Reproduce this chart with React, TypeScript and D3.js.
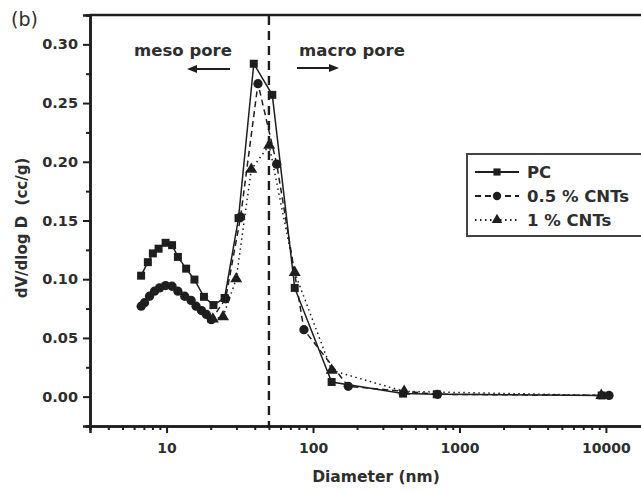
import React, { useEffect, useRef } from "react"
import * as d3 from "d3"

// PC (squares, solid)
const pcDiameter = [6.7, 7.45, 8.06, 8.82, 9.85, 10.9, 11.95, 13.6, 15.5, 18.0, 20.9, 24.9, 31.0, 39.4, 52.7, 75, 134, 412, 700, 9350]
const pcValue = [0.103, 0.1145, 0.122, 0.126, 0.131, 0.129, 0.119, 0.109, 0.0997, 0.085, 0.078, 0.084, 0.152, 0.2835, 0.257, 0.0926, 0.0125, 0.0026, 0.002, 0.001]

// 0.5 % CNTs (circles, dashed)
const cnt05Diameter = [6.71, 7.07, 7.65, 8.28, 8.96, 9.85, 10.9, 11.95, 13.3, 14.7, 15.9, 17.3, 18.7, 20.2, 25.3, 32, 42.1, 56.5, 86.7, 174, 708, 10500]
const cnt05Value = [0.077, 0.08, 0.0855, 0.0898, 0.0926, 0.0946, 0.094, 0.0898, 0.0855, 0.082, 0.077, 0.0733, 0.07, 0.0656, 0.0833, 0.153, 0.2665, 0.198, 0.057, 0.0088, 0.002, 0.001]

// 1 % CNTs (triangles, dotted)
const cnt1Diameter = [20.7, 24.3, 29.9, 37.9, 50.2, 75, 134, 419, 9300]
const cnt1Value = [0.066, 0.068, 0.1003, 0.1935, 0.214, 0.1057, 0.0224, 0.0045, 0.001]

const xMajorTicks = [10, 100, 1000, 10000]
const yMajorTicks = [0, 0.05, 0.1, 0.15, 0.2, 0.25, 0.3]
const seriesNames = ["PC", "0.5 % CNTs", "1 % CNTs"]
const boundary = 50

const W = 641
const H = 492
const ink = "#1e1e1e"
const txt = "#2e2e2e"
const font = "'DejaVu Sans', sans-serif"

const App = () => {
	const svgRef = useRef<SVGSVGElement>(null)

	useEffect(() => {
		const svg = d3.select(svgRef.current)
		svg.selectAll("*").remove()

		const x = d3.scaleLog().domain([3, 20000]).range([90, 650])
		const y = d3.scaleLinear().domain([-0.025, 0.325]).range([426, 15])

		const series = [
			{ name: seriesNames[0], d: pcDiameter, v: pcValue, dash: null, shape: d3.symbolSquare, size: 64 },
			{ name: seriesNames[1], d: cnt05Diameter, v: cnt05Value, dash: "6,4", shape: d3.symbolCircle, size: 68 },
			{ name: seriesNames[2], d: cnt1Diameter, v: cnt1Value, dash: "1.5,3.5", shape: d3.symbolTriangle, size: 62 },
		]

		// frame: top line
		svg.append("line")
			.attr("x1", 90).attr("x2", W)
			.attr("y1", 15).attr("y2", 15)
			.attr("stroke", ink).attr("stroke-width", 2.5)

		// x axis with log minor ticks
		const minor: number[] = []
		for (let e = 0; e <= 4; e++) {
			for (let k = 2; k <= 9; k++) {
				const t = k * Math.pow(10, e)
				if (t > 3 && t < 20000) minor.push(t)
			}
		}
		const xAxis = svg.append("g").attr("transform", "translate(0,426)")
		xAxis.call(
			d3.axisBottom(x).tickValues(minor).tickSize(4).tickFormat(() => "")
		)
		xAxis.append("g").call(
			d3.axisBottom(x).tickValues(xMajorTicks).tickSize(7).tickFormat(d3.format("d"))
		)
		xAxis.selectAll(".domain").attr("stroke", ink).attr("stroke-width", 2.5)
		xAxis.selectAll("line").attr("stroke", ink).attr("stroke-width", 2)
		xAxis.selectAll("text")
			.attr("font-family", font).attr("font-weight", "bold")
			.attr("font-size", 14).attr("fill", txt).attr("y", 27).attr("dy", null)

		// y axis
		const yAxis = svg.append("g").attr("transform", "translate(90,0)")
		yAxis.call(
			d3.axisLeft(y).tickValues(d3.range(-0.025, 0.33, 0.05)).tickSize(4).tickFormat(() => "")
		)
		yAxis.append("g").call(
			d3.axisLeft(y).tickValues(yMajorTicks).tickSize(7).tickFormat(d3.format(".2f"))
		)
		yAxis.selectAll(".domain").attr("stroke", ink).attr("stroke-width", 2.5)
		yAxis.selectAll("line").attr("stroke", ink).attr("stroke-width", 2)
		yAxis.selectAll("text")
			.attr("font-family", font).attr("font-weight", "bold")
			.attr("font-size", 14.5).attr("fill", txt).attr("x", -12)

		// axis titles
		svg.append("text")
			.attr("x", 376).attr("y", 482)
			.attr("text-anchor", "middle")
			.attr("font-family", font).attr("font-weight", "bold").attr("font-size", 15.5)
			.attr("fill", txt)
			.text("Diameter (nm)")
		svg.append("text")
			.attr("transform", "translate(27,228) rotate(-90)")
			.attr("text-anchor", "middle")
			.attr("font-family", font).attr("font-weight", "bold").attr("font-size", 15)
			.attr("fill", txt)
			.attr("xml:space", "preserve")
			.text("dV/dlog D  (cc/g)")

		svg.append("text")
			.attr("x", 11).attr("y", 26)
			.attr("font-family", font).attr("font-size", 19).attr("fill", txt)
			.text("(b)")

		// vertical boundary line
		svg.append("line")
			.attr("x1", x(boundary)).attr("x2", x(boundary))
			.attr("y1", 16).attr("y2", 426)
			.attr("stroke", ink).attr("stroke-width", 2.4)
			.attr("stroke-dasharray", "9,6")

		// annotations
		svg.append("text")
			.attr("x", 183).attr("y", 56).attr("text-anchor", "middle")
			.attr("font-family", font).attr("font-weight", "bold").attr("font-size", 16.5)
			.attr("fill", txt).text("meso pore")
		svg.append("text")
			.attr("x", 352).attr("y", 56).attr("text-anchor", "middle")
			.attr("font-family", font).attr("font-weight", "bold").attr("font-size", 16.5)
			.attr("fill", txt).text("macro pore")

		const arrow = (x1: number, x2: number, yy: number) => {
			const dir = Math.sign(x2 - x1)
			svg.append("line")
				.attr("x1", x1).attr("x2", x2 - dir * 6)
				.attr("y1", yy).attr("y2", yy)
				.attr("stroke", ink).attr("stroke-width", 2)
			svg.append("path")
				.attr("d", `M${x2},${yy} L${x2 - dir * 10},${yy - 4} L${x2 - dir * 10},${yy + 4} Z`)
				.attr("fill", ink)
		}
		arrow(230, 187, 69)
		arrow(297, 339, 68)

		// series lines + markers
		const line = d3.line<[number, number]>()
			.x((p) => x(p[0]))
			.y((p) => y(p[1]))

		series.forEach((s) => {
			const pts: [number, number][] = s.d.map((d, i) => [d, s.v[i]])
			svg.append("path")
				.attr("d", line(pts))
				.attr("fill", "none")
				.attr("stroke", ink)
				.attr("stroke-width", 1.5)
				.attr("stroke-dasharray", s.dash)
			svg.append("g")
				.selectAll("path")
				.data(pts)
				.join("path")
				.attr("transform", (p) => `translate(${x(p[0])},${y(p[1])})`)
				.attr("d", d3.symbol().type(s.shape).size(s.size)())
				.attr("fill", ink)
		})

		// legend
		const lg = svg.append("g").attr("transform", "translate(467,154)")
		lg.append("rect")
			.attr("width", 190).attr("height", 82)
			.attr("fill", "white").attr("stroke", "#444").attr("stroke-width", 2)
		series.forEach((s, i) => {
			const yy = 18 + i * 24
			lg.append("line")
				.attr("x1", 8).attr("x2", 52)
				.attr("y1", yy).attr("y2", yy)
				.attr("stroke", ink).attr("stroke-width", 1.8)
				.attr("stroke-dasharray", s.dash)
			lg.append("path")
				.attr("transform", `translate(30,${yy})`)
				.attr("d", d3.symbol().type(s.shape).size(s.size * 0.8)())
				.attr("fill", ink)
			lg.append("text")
				.attr("x", 60).attr("y", yy + 6)
				.attr("font-family", font).attr("font-weight", "bold").attr("font-size", 16.5)
				.attr("fill", txt)
				.text(s.name)
		})
	}, [])

	return (
		<svg
			ref={svgRef}
			width={W}
			height={H}
			style={{ position: "absolute", left: 0, top: 0, background: "white" }}
		/>
	)
}

export default App
